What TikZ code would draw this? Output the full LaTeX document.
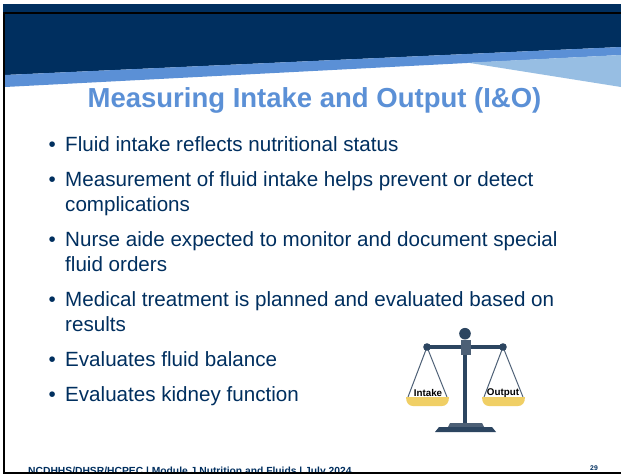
\documentclass[tikz,border=0pt]{standalone}
\usepackage{fontspec}
\setmainfont{Liberation Sans}
\definecolor{navy}{HTML}{002F5F}
\definecolor{midblue}{HTML}{5B90D6}
\definecolor{lightblue}{HTML}{97BEE3}
\definecolor{scaledark}{HTML}{2C4560}
\definecolor{scalegrey}{HTML}{4D6076}
\definecolor{pan}{HTML}{F0CF65}
\tikzset{
  bodytext/.style={anchor=base west,inner sep=0pt,text=navy,font=\fontsize{20.6}{22}\selectfont},
  bulletmark/.style={anchor=base west,inner sep=0pt,text=navy,font=\fontsize{20.6}{22}\selectfont},
  panlabel/.style={inner sep=0pt,text=black,font=\fontsize{9.8}{10}\selectfont\bfseries},
  footer/.style={anchor=base west,inner sep=0pt,text=navy,font=\fontsize{10.3}{12}\selectfont\bfseries},
  string/.style={draw=scalegrey,line width=1pt}
}
\begin{document}
\begin{tikzpicture}[x=1pt,y=-1pt]
\useasboundingbox (0,0) rectangle (621,474);
\fill[white] (0,0) rectangle (621,474);
% header
\fill[navy] (3,4) rectangle (621,12);
\fill[navy] (5,14) -- (621,14) -- (621,47) -- (5,75) -- cycle;
\fill[midblue] (5,75) -- (621,47) -- (621,55) -- (5,87) -- cycle;
\fill[lightblue] (468,62.7) -- (621,55) -- (621,87) -- cycle;
% frame
\fill[black] (3,11.7) rectangle (621,14);
\fill[black] (3,11.7) rectangle (5.3,474);
\fill[black] (3,471.5) rectangle (621,474);
% title
\node[anchor=base,inner sep=0pt,text=midblue,font=\fontsize{27.5}{30}\selectfont\bfseries] (title) at (314.5,107.5) {Measuring Intake and Output (I\&O)};
% bullets
\node[bulletmark] (b1) at (48.5,151) {•};
\node[bodytext] (t1) at (65,151) {Fluid intake reflects nutritional status};
\node[bulletmark] (b2) at (48.5,186) {•};
\node[bodytext] (t2a) at (65,186) {Measurement of fluid intake helps prevent or detect};
\node[bodytext] (t2b) at (65,211) {complications};
\node[bulletmark] (b3) at (48.5,246) {•};
\node[bodytext] (t3a) at (65,246) {Nurse aide expected to monitor and document special};
\node[bodytext] (t3b) at (65,271) {fluid orders};
\node[bulletmark] (b4) at (48.5,306) {•};
\node[bodytext] (t4a) at (65,306) {Medical treatment is planned and evaluated based on};
\node[bodytext] (t4b) at (65,331) {results};
\node[bulletmark] (b5) at (48.5,366) {•};
\node[bodytext] (t5) at (65,366) {Evaluates fluid balance};
\node[bulletmark] (b6) at (48.5,401) {•};
\node[bodytext] (t6) at (65,401) {Evaluates kidney function};
% scale
\draw[string] (427,347) -- (408,397) (427,347) -- (447,397);
\draw[string] (503,347) -- (484,397) (503,347) -- (523,397);
\fill[pan] (406,397) -- (449,397) .. controls (449,403) and (446,406) .. (442,406) -- (413,406) .. controls (409,406) and (406,403) .. (406,397) -- cycle;
\fill[pan] (482,397) -- (525,397) .. controls (525,403) and (522,406) .. (518,406) -- (489,406) .. controls (485,406) and (482,403) .. (482,397) -- cycle;
\fill[scaledark] (427,345.3) rectangle (503,348.7);
\fill[scaledark] (463,345) rectangle (467,423);
\fill[scaledark] (427,347) circle (3.8) (503,347) circle (3.8) (465,333.7) circle (5.8);
\fill[scalegrey] (460.5,340) rectangle (471,355);
\fill[scalegrey] (448,427) -- (450,423) -- (482,423) -- (484,427) -- cycle;
\fill[scaledark] (435,432) -- (439,427) -- (492,427) -- (496,432) -- cycle;
\node[panlabel] (intake) at (428,393) {Intake};
\node[panlabel] (output) at (503,393) {Output};
% footer
\begin{scope}
\clip (0,0) rectangle (621,471.5);
\node[footer] (foot) at (28,474) {NCDHHS/DHSR/HCPEC | Module J Nutrition and Fluids | July 2024};
\end{scope}
\node[anchor=base,inner sep=0pt,text=navy,font=\fontsize{6.8}{8}\selectfont\bfseries] (page) at (594,470) {29};
\end{tikzpicture}
\end{document}
